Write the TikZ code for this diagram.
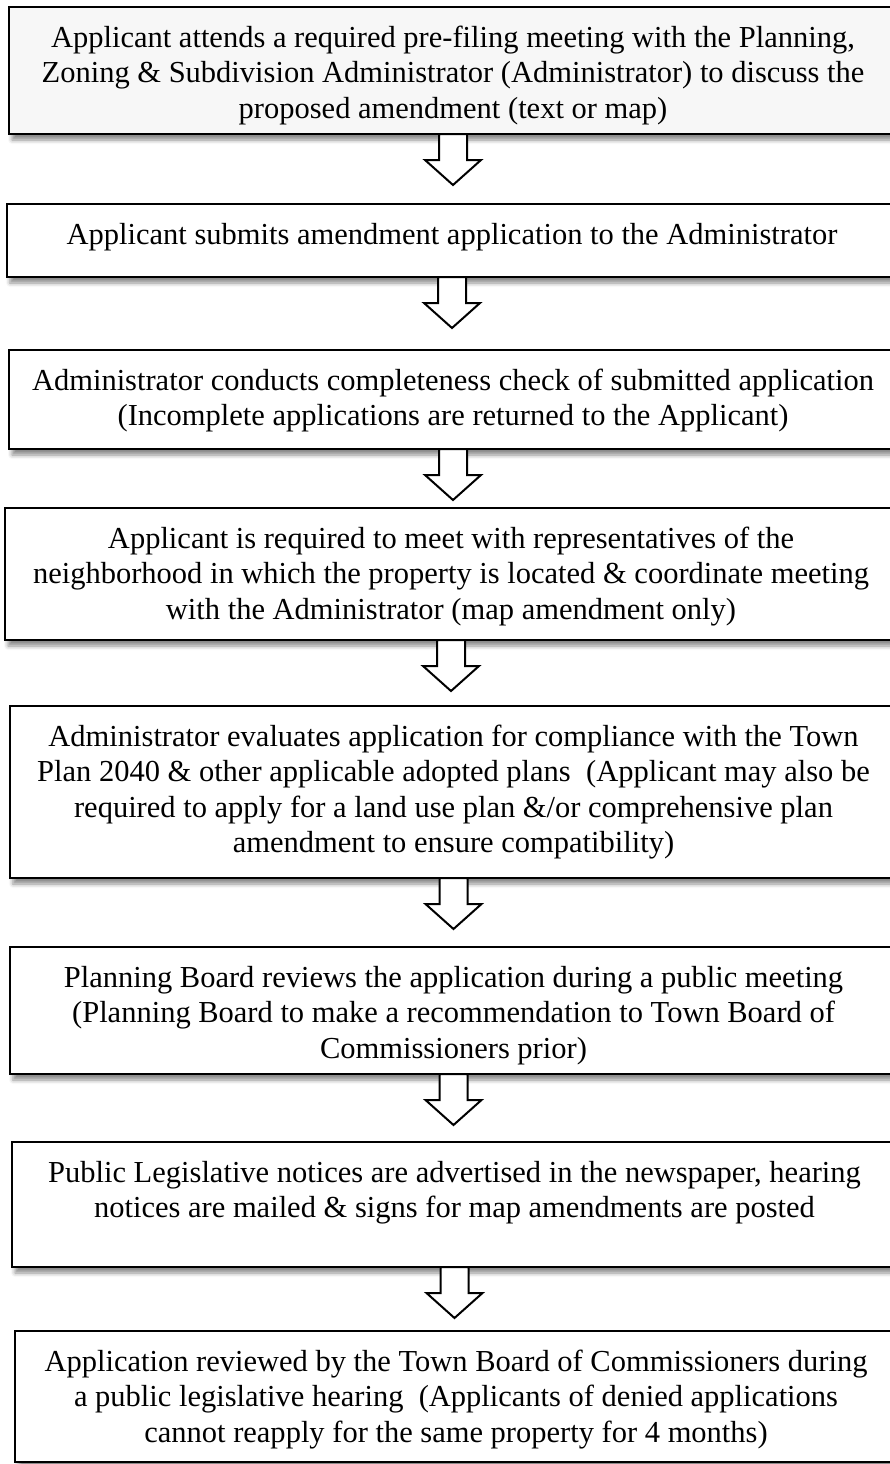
\documentclass[tikz,border=0pt]{standalone}
\usepackage{fontspec}
\setmainfont{Liberation Serif}
\usetikzlibrary{shadows.blur}

\tikzset{every picture/.style={line width=2pt}}
\tikzset{
  stepbox/.style={draw, line width=2pt, fill=white, inner sep=0pt, outer sep=0pt,
    anchor=north west, minimum width=#1,
    blur shadow={shadow xshift=3pt, shadow yshift=-6pt, shadow blur radius=4pt, shadow opacity=45}},
  steptext/.style={anchor=north, inner sep=0pt, outer sep=0pt, align=center, yshift=-15pt,
    font=\fontsize{30.5}{35.5}\selectfont},
  downarrow/.style={draw, line width=2pt, fill=white, line join=miter}
}
\newcommand{\topline}{\rule{0pt}{25pt}}

\begin{document}
\begin{tikzpicture}[x=1pt,y=1pt,yscale=-1,xscale=1]
	\useasboundingbox (0,0) rectangle (889,1464);

	%Boxes
	\node[stepbox=888pt, minimum height=127pt, fill={rgb,255:red,247;green,247;blue,247}] (b1) at (9,7) {};
	\node[stepbox=890pt, minimum height=73pt] (b2) at (7,204) {};
	\node[stepbox=888pt, minimum height=99pt] (b3) at (9,350) {};
	\node[stepbox=892pt, minimum height=132pt] (b4) at (5,508) {};
	\node[stepbox=887pt, minimum height=172pt] (b5) at (10,706) {};
	\node[stepbox=887pt, minimum height=127pt] (b6) at (10,947) {};
	\node[stepbox=885pt, minimum height=125pt] (b7) at (12,1142) {};
	\node[stepbox=882pt, minimum height=131pt] (b8) at (15,1331) {};

	% Text Node
	\node[steptext] (t1) at (b1.north) {\topline Applicant attends a required pre-filing meeting with the Planning,\\Zoning \& Subdivision Administrator (Administrator) to discuss the\\proposed amendment (text or map)};
	% Text Node
	\node[steptext] (t2) at (b2.north) {\topline Applicant submits amendment application to the Administrator};
	% Text Node
	\node[steptext] (t3) at (b3.north) {\topline Administrator conducts completeness check of submitted application\\(Incomplete applications are returned to the Applicant)};
	% Text Node
	\node[steptext] (t4) at (b4.north) {\topline Applicant is required to meet with representatives of the\\neighborhood in which the property is located \& coordinate meeting\\with the Administrator (map amendment only)};
	% Text Node
	\node[steptext] (t5) at (b5.north) {\topline Administrator evaluates application for compliance with the Town\\Plan 2040 \& other applicable adopted plans\ \ (Applicant may also be\\required to apply for a land use plan \&/or comprehensive plan\\amendment to ensure compatibility)};
	% Text Node
	\node[steptext] (t6) at (b6.north) {\topline Planning Board reviews the application during a public meeting\\(Planning Board to make a recommendation to Town Board of\\Commissioners prior)};
	% Text Node
	\node[steptext] (t7) at (b7.north) {\topline Public Legislative notices are advertised in the newspaper, hearing\\notices are mailed \& signs for map amendments are posted};
	% Text Node
	\node[steptext] (t8) at (b8.north) {\topline Application reviewed by the Town Board of Commissioners during\\a public legislative hearing\ \ (Applicants of denied applications\\cannot reapply for the same property for 4 months)};

	%Block arrows
	\draw[downarrow] (b1.south) ++(-14,0) -- ++(0,26) -- ++(-14,0) -- ++(28,25) -- ++(28,-25) -- ++(-14,0) -- ++(0,-26) -- cycle;
	\draw[downarrow] (b2.south) ++(-14,0) -- ++(0,26) -- ++(-14,0) -- ++(28,25) -- ++(28,-25) -- ++(-14,0) -- ++(0,-26) -- cycle;
	\draw[downarrow] (b3.south) ++(-14,0) -- ++(0,26) -- ++(-14,0) -- ++(28,25) -- ++(28,-25) -- ++(-14,0) -- ++(0,-26) -- cycle;
	\draw[downarrow] (b4.south) ++(-14,0) -- ++(0,26) -- ++(-14,0) -- ++(28,25) -- ++(28,-25) -- ++(-14,0) -- ++(0,-26) -- cycle;
	\draw[downarrow] (b5.south) ++(-14,0) -- ++(0,26) -- ++(-14,0) -- ++(28,25) -- ++(28,-25) -- ++(-14,0) -- ++(0,-26) -- cycle;
	\draw[downarrow] (b6.south) ++(-14,0) -- ++(0,26) -- ++(-14,0) -- ++(28,25) -- ++(28,-25) -- ++(-14,0) -- ++(0,-26) -- cycle;
	\draw[downarrow] (b7.south) ++(-14,0) -- ++(0,26) -- ++(-14,0) -- ++(28,25) -- ++(28,-25) -- ++(-14,0) -- ++(0,-26) -- cycle;

\end{tikzpicture}
\end{document}
